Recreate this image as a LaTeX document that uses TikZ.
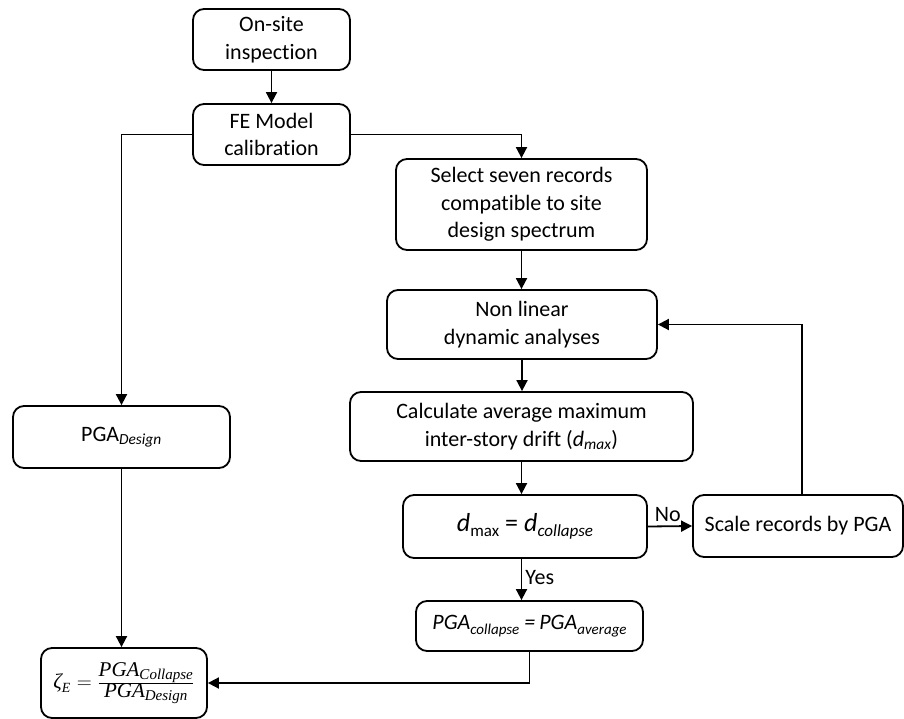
\documentclass[tikz,border=0pt]{standalone}
\usepackage{fontspec}
\setmainfont{Carlito}[Ligatures=CommonOff]
\newfontfamily\serifmath{Liberation Serif}
\usetikzlibrary{arrows.meta}
\tikzset{
  box/.style={draw, line width=1.8pt, rounded corners=11pt, align=center, inner sep=0pt,
    font=\fontsize{22}{27.5}\selectfont},
  arr/.style={line width=1.8pt, -{Triangle[width=11pt,length=11pt]}},
  lbl/.style={font=\fontsize{22}{24}\selectfont, inner sep=1pt}
}
\begin{document}
\begin{tikzpicture}[x=1pt,y=-1pt]
\useasboundingbox (0,0) rectangle (904,719);
\node[box, minimum width=157pt, minimum height=61pt] (on) at (271.5,39.5) {On-site\\inspection};
\node[box, minimum width=157pt, minimum height=61pt] (fe) at (271.5,134.5) {FE Model\\calibration};
\node[box, minimum width=251pt, minimum height=91pt] (sel) at (521.5,204.5) {Select seven records\\compatible to site\\design spectrum};
\node[box, minimum width=270pt, minimum height=69pt] (nl) at (522,324.5) {Non linear\\dynamic analyses};
\node[box, minimum width=343pt, minimum height=69pt] (calc) at (521.5,426.5) {Calculate average maximum\\inter-story drift (\textit{d}\textsubscript{\itshape max})};
\node[box, minimum width=244pt, minimum height=63pt] (dm) at (525,526.5) {\fontsize{26}{28}\selectfont\textit{d}\raisebox{-5pt}{\fontsize{17}{18}\selectfont max}\kern6pt=\kern6pt\textit{d}\raisebox{-5pt}{\fontsize{17}{18}\selectfont\itshape collapse}};
\node[box, minimum width=210pt, minimum height=62pt] (sc) at (798,526) {Scale records by PGA};
\node[box, minimum width=227pt, minimum height=50pt] (pc) at (529.5,626) {\fontsize{22}{24}\selectfont\itshape PGA\raisebox{-5pt}{\fontsize{15}{16}\selectfont collapse}\kern5pt=\kern4pt PGA\raisebox{-5pt}{\fontsize{15}{16}\selectfont average}};
\node[box, minimum width=217pt, minimum height=62pt] (pd) at (121.5,437) {PGA\textsubscript{\itshape Design}};
\node[box, minimum width=166pt, minimum height=70pt] (ze) at (124,683)
  {\serifmath\fontsize{21}{22}\selectfont
   $\mbox{\itshape ζ}_{\mbox{\fontsize{14}{15}\selectfont\itshape E}} = \frac{\mbox{\itshape PGA\textsubscript{\fontsize{15}{16}\selectfont Collapse}}}{\mbox{\itshape PGA\textsubscript{\fontsize{15}{16}\selectfont Design}}}$};
\draw[arr] (on.south) -- (fe.north);
\draw[arr] (fe.west) -| (pd.north);
\draw[arr] (fe.east) -| (sel.north);
\draw[arr] (sel.south) -- (sel.south |- nl.north);
\draw[arr] (nl.south) -- (nl.south |- calc.north);
\draw[arr] (calc.south) -- (calc.south |- dm.north);
\draw[arr] (dm.east) -- node[lbl, above=3pt, pos=0.45] (no) {No} (sc.west);
\draw[arr] (sc.north -| 802,0) |- (nl.east);
\draw[arr] (calc.south |- dm.south) -- node[lbl, right=2pt, pos=0.45] (yes) {Yes} (calc.south |- pc.north);
\draw[arr] (pc.south) |- (ze.east);
\draw[arr] (pd.south) -- (pd.south |- ze.north);
\end{tikzpicture}
\end{document}
